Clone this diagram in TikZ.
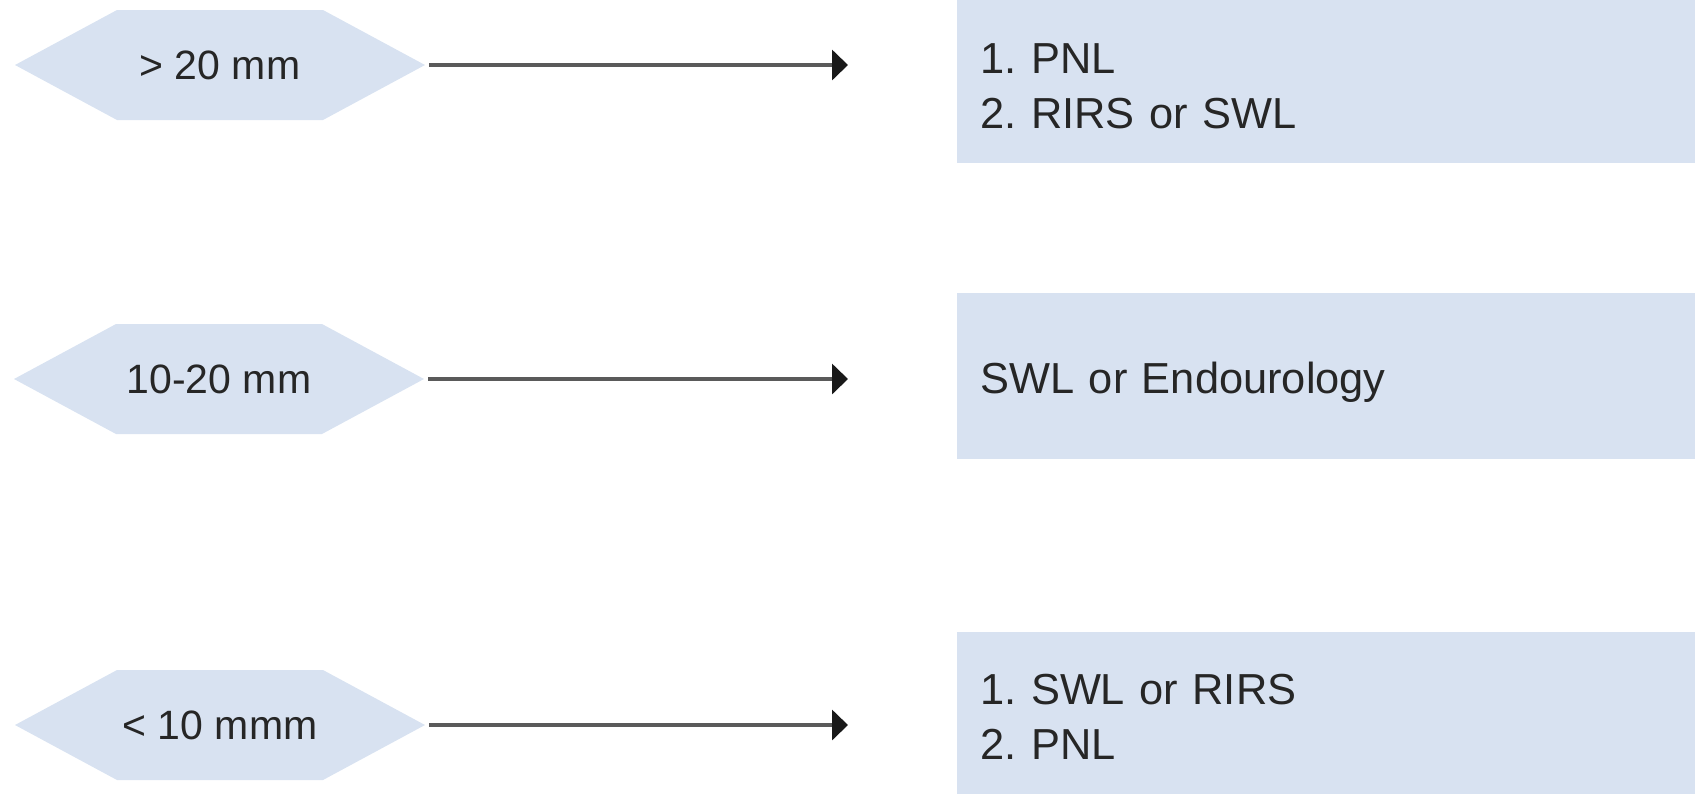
\documentclass[tikz,border=0pt]{standalone}
\usepackage{fontspec}
\setmainfont{Liberation Sans}
\usetikzlibrary{arrows.meta,backgrounds}
\definecolor{pale}{RGB}{216,226,241}
\definecolor{ink}{RGB}{38,38,38}
\definecolor{linec}{RGB}{90,90,90}
\frenchspacing
\begin{document}
\begin{tikzpicture}[x=0.5pt,y=-0.5pt,
  hexnode/.style={minimum width=205pt, minimum height=55pt, inner sep=0pt,
    font=\fontsize{20.5}{24}\selectfont, text=ink},
  resbox/.style={fill=pale, anchor=west, text width=346pt, align=left,
    inner xsep=11.5pt, inner ysep=0pt, font=\fontsize{21.7}{27.5}\selectfont, text=ink},
  conn/.style={draw=linec, line width=1.8pt, shorten <=2pt, shorten >=54.5pt,
    -{Triangle[length=8pt,width=15pt,color=black!90]}},
  hexfill/.style={fill=pale}]
\useasboundingbox (0,0) rectangle (1695,794);

% condition nodes
\node[hexnode] (h1) at (220,65) {> 20 mm};
\node[hexnode] (h2) at (219,379) {10-20 mm};
\node[hexnode] (h3) at (220,725) {< 10 mmm};

% result boxes
\node[resbox, minimum height=81.5pt] (b1) at (957,81.5) {\strut1. PNL\\2. RIRS or SWL};
\node[resbox, minimum height=83pt] (b2) at (957,376) {\raisebox{-3pt}[\height][\depth]{\strut SWL or Endourology}};
\node[resbox, minimum height=81pt] (b3) at (957,713) {\strut1. SWL or RIRS\\2. PNL};

% hexagon shapes behind the condition nodes
\begin{scope}[on background layer]
  \foreach \h in {h1,h2,h3}{
    \fill[hexfill] (\h.center) ++(-205,0) -- ++(102,-55) -- ++(206,0) -- ++(102,55)
      -- ++(-102,55) -- ++(-206,0) -- cycle;
  }
\end{scope}

% connectors
\draw[conn] (h1.east) -- (h1.east -| b1.west);
\draw[conn] (h2.east) -- (h2.east -| b2.west);
\draw[conn] (h3.east) -- (h3.east -| b3.west);
\end{tikzpicture}
\end{document}
